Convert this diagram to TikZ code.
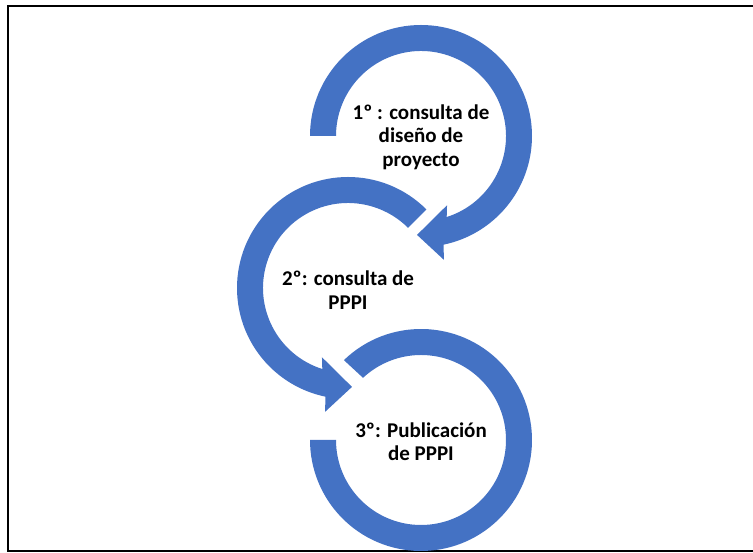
\documentclass[tikz,border=0pt]{standalone}
\usepackage{fontspec}
\setmainfont{Carlito}
\usepackage{xcolor}
\definecolor{arrowblue}{HTML}{4472C4}

\begin{document}
\begin{tikzpicture}[x=1pt,y=1pt]
	\tikzstyle{ring}=[fill=arrowblue, draw=none]
	\tikzstyle{steptext}=[align=center, font=\bfseries\fontsize{21}{23.5}\selectfont, inner sep=0pt]
	
	\useasboundingbox (0,0) rectangle (753,553);
	\draw[line width=2pt] (7.7,1.5) rectangle (760,547.3);
	
	% Centres
	\coordinate (c1) at (421,417);
	\coordinate (c2) at (348,265);
	\coordinate (c3) at (421,113);
	
	% Step 1
	\begin{scope}[shift={(c1)}]
	\fill[ring] (180:111pt) arc[start angle=180, end angle=-78.3, radius=111pt]
		-- (-79.5:126pt) -- (-92.3:99pt) -- (-69.4:74pt) -- (-72.4:85pt)
		arc[start angle=-72.4, end angle=180, radius=85pt] -- cycle;
	\end{scope}
	
	% Step 2
	\begin{scope}[shift={(c2)}]
	\fill[ring] (45:111pt) arc[start angle=45, end angle=258.3, radius=111pt]
		-- (259.5:126pt) -- (272.3:99pt) -- (249.4:74pt) -- (252.4:85pt)
		arc[start angle=252.4, end angle=45, radius=85pt] -- cycle;
	\end{scope}
	
	% Step 3
	\begin{scope}[shift={(c3)}]
	\fill[ring] (134:111pt) arc[start angle=134, end angle=-180, radius=111pt]
		-- (180:85pt) arc[start angle=-180, end angle=133, radius=85pt] -- cycle;
	\end{scope}
	
	% Texts
	\node[steptext] (step1) at (421,416) {1º : consulta de\\diseño de\\proyecto};
	\node[steptext] (step2) at (348,263) {2º: consulta de\\PPPI};
	\node[steptext] (step3) at (421,111.5) {3º: Publicación\\de PPPI};
	
\end{tikzpicture}
\end{document}
